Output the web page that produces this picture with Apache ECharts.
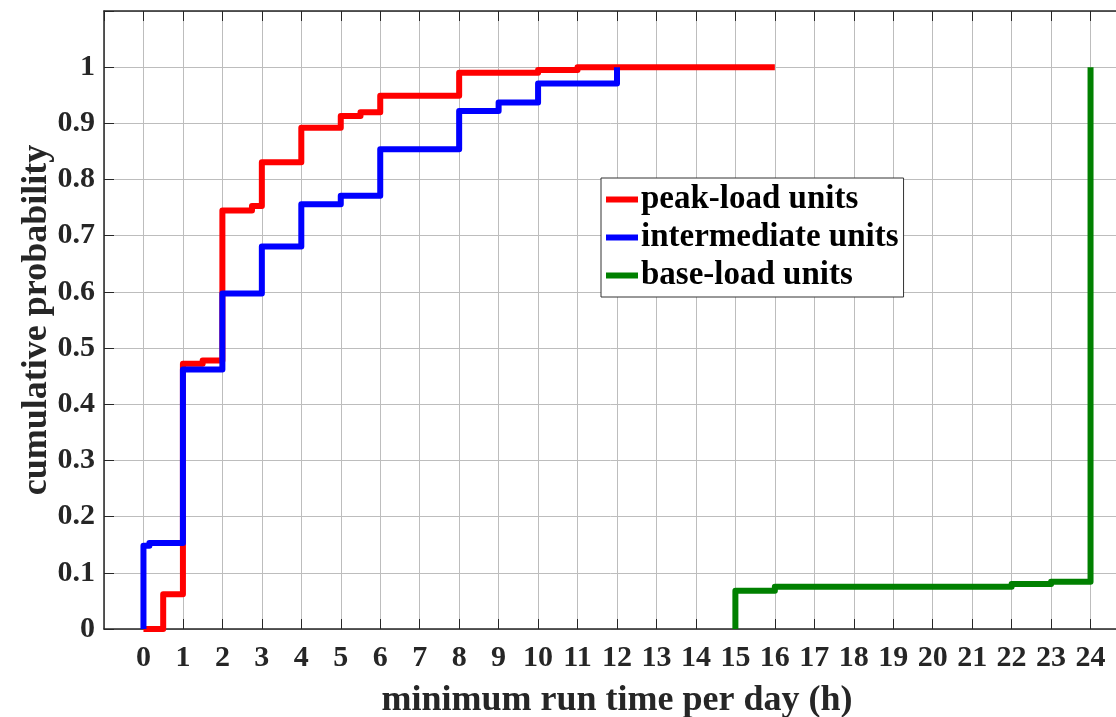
<!DOCTYPE html>
<html>
<head>
<meta charset="utf-8">
<script src="https://cdn.jsdelivr.net/npm/echarts@6/dist/echarts.min.js"></script>
<style>
  html, body { margin: 0; padding: 0; background: #fff; }
  #chart { width: 1116px; height: 717px; }
</style>
</head>
<body>
<div id="chart"></div>
<script>
// Empirical CDFs of minimum run time, one [hours, cumulative probability] pair per jump
const peakLoad = [
  [0, 0], [0.5, 0.062], [1, 0.472], [1.5, 0.478], [2, 0.745], [2.75, 0.753],
  [3, 0.831], [4, 0.892], [5, 0.913], [5.5, 0.920], [6, 0.949], [8, 0.990],
  [10, 0.995], [11, 1.0], [16, 1.0]
];
const intermediate = [
  [0, 0], [0, 0.148], [0.15, 0.153], [1, 0.462], [2, 0.597], [3, 0.681],
  [4, 0.756], [5, 0.771], [6, 0.854], [8, 0.922], [9, 0.937], [10, 0.971],
  [12, 1.0]
];
const baseLoad = [
  [15, 0], [15, 0.068], [16, 0.0754], [22, 0.080], [23, 0.0843], [24, 1.0]
];
const seriesNames = ['peak-load units', 'intermediate units', 'base-load units'];
const seriesColors = ['#ff0000', '#0000ff', '#008000'];
const xTitle = 'minimum run time per day (h)';
const yTitle = 'cumulative probability';

const FONT = 'Liberation Serif';
const INK = '#262626';

const chart = echarts.init(document.getElementById('chart'), null, { renderer: 'canvas' });

const gridLine = { show: true, lineStyle: { color: '#bdbdbd', width: 1 } };

const makeSeries = (name, data, color) => ({
  name,
  type: 'line',
  step: 'end',
  data,
  showSymbol: false,
  symbol: 'none',
  lineStyle: { color, width: 6, join: 'round', cap: 'butt' },
  itemStyle: { color },
  animation: false
});

chart.setOption({
  backgroundColor: '#ffffff',
  animation: false,
  grid: { left: 104, top: 11, right: -14, bottom: 88, containLabel: false, outerBoundsMode: 'none' },
  legend: {
    orient: 'vertical',
    left: 601,
    top: 178,
    data: seriesNames,
    icon: 'rect',
    itemWidth: 32,
    itemHeight: 6,
    itemGap: 5,
    padding: [5, 5, 5, 5],
    backgroundColor: '#ffffff',
    borderColor: '#333333',
    borderWidth: 1,
    borderRadius: 0,
    textStyle: { fontFamily: FONT, fontWeight: 'bold', fontSize: 33, color: '#000', padding: [0, 0, 0, -2] }
  },
  xAxis: [
    {
      type: 'value',
      min: -1,
      max: 25,
      interval: 1,
      position: 'bottom',
      name: xTitle,
      nameLocation: 'middle',
      nameGap: 54,
      nameTextStyle: { fontFamily: FONT, fontWeight: 'bold', fontSize: 36, color: INK },
      axisLine: { show: true, onZero: false, lineStyle: { color: INK, width: 1.5 } },
      axisTick: { show: true, inside: true, length: 10, lineStyle: { color: INK } },
      axisLabel: {
        show: true, margin: 14, fontFamily: FONT, fontWeight: 'bold', fontSize: 30, color: INK,
        formatter: v => (v >= 0 && v <= 24 ? String(v) : ''),
        showMinLabel: false, showMaxLabel: false
      },
      splitLine: gridLine
    },
    {
      type: 'value',
      min: -1,
      max: 25,
      interval: 1,
      position: 'top',
      axisLine: { show: true, onZero: false, lineStyle: { color: INK, width: 1.5 } },
      axisTick: { show: true, inside: true, length: 10, lineStyle: { color: INK } },
      axisLabel: { show: false },
      splitLine: { show: false }
    }
  ],
  yAxis: {
    type: 'value',
    min: 0,
    max: 1.1,
    interval: 0.1,
    name: yTitle,
    nameLocation: 'middle',
    nameGap: 49,
    nameMoveOverlap: false,
    nameTextStyle: { fontFamily: FONT, fontWeight: 'bold', fontSize: 36, color: INK },
    axisLine: { show: true, onZero: false, lineStyle: { color: INK, width: 1.5 } },
    axisTick: { show: true, inside: true, length: 10, lineStyle: { color: INK } },
    axisLabel: {
      margin: 9, fontFamily: FONT, fontWeight: 'bold', fontSize: 30, color: INK,
      formatter: v => {
        const r = Math.round(v * 10) / 10;
        return r > 1.001 ? '' : String(r);
      }
    },
    splitLine: gridLine
  },
  series: [
    makeSeries(seriesNames[0], peakLoad, seriesColors[0]),
    makeSeries(seriesNames[1], intermediate, seriesColors[1]),
    makeSeries(seriesNames[2], baseLoad, seriesColors[2])
  ]
});
</script>
</body>
</html>
